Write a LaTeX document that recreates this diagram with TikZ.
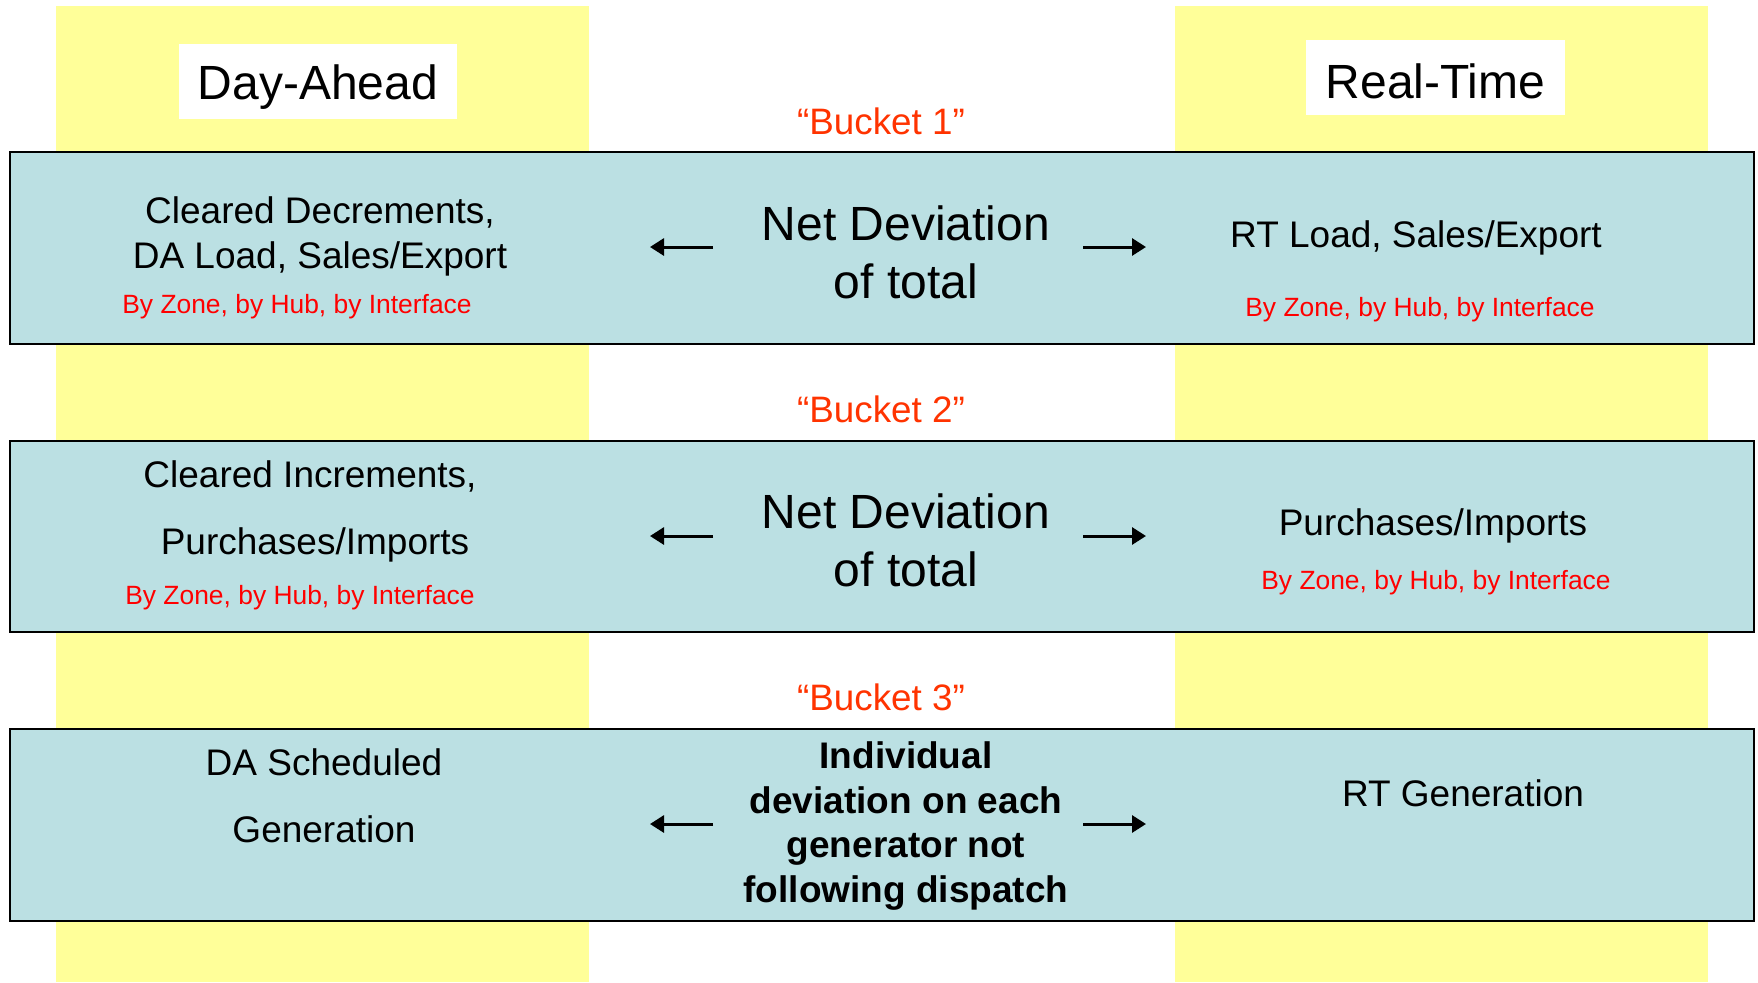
\documentclass[tikz,border=0pt]{standalone}
\usepackage{fontspec}
\setmainfont{Liberation Sans}
\usetikzlibrary{arrows.meta}
\definecolor{ylw}{HTML}{FFFF99}
\definecolor{bluebox}{HTML}{BBE0E3}
\definecolor{bucketred}{HTML}{FF3300}
\definecolor{zonered}{HTML}{FF0000}
\tikzset{
  column/.style={fill=ylw,draw=none},
  band/.style={fill=bluebox,draw=black,line width=1.1pt},
  headtxt/.style={inner sep=0pt,font=\fontsize{24}{28}\selectfont},
  buckettxt/.style={text=bucketred,inner sep=0pt,font=\fontsize{18.4}{22}\selectfont},
  bodytxt/.style={inner sep=0pt,align=center,font=\fontsize{18.5}{22.5}\selectfont},
  widetxt/.style={inner sep=0pt,align=center,font=\fontsize{18.5}{33.5}\selectfont},
  zonetxt/.style={inner sep=0pt,text=zonered,font=\fontsize{13.2}{16}\selectfont},
  nettxt/.style={inner sep=0pt,align=center,font=\fontsize{24}{29}\selectfont},
  indivtxt/.style={inner sep=0pt,align=center,font=\fontsize{18.5}{22.4}\selectfont\bfseries},
  arr/.style={-{Triangle[length=7pt,width=8.5pt]},line width=1.5pt}
}
\begin{document}
\begin{tikzpicture}[x=0.5pt,y=-0.5pt]
\useasboundingbox (0,0) rectangle (1758,982);
% yellow columns
\fill[column] (56,6) rectangle (589,982);
\fill[column] (1175,6) rectangle (1708,982);
% header boxes
\fill[white] (179,44) rectangle (457,119);
\fill[white] (1306,40) rectangle (1565,115);
\node[headtxt] (da) at (318,87) {Day-Ahead};
\node[headtxt] (rt) at (1435.5,81) {Real-Time};
% bands
\draw[band] (10,152) rectangle (1754,344);
\draw[band] (10,441) rectangle (1754,632);
\draw[band] (10,729) rectangle (1754,921);
% bucket labels
\node[buckettxt] (b1) at (881,121) {“Bucket 1”};
\node[buckettxt] (b2) at (881,409) {“Bucket 2”};
\node[buckettxt] (b3) at (881,697) {“Bucket 3”};
% ---- band 1
\node[bodytxt] (l1) at (320,236) {Cleared Decrements,\\DA Load, Sales/Export};
\node[zonetxt] (l1z) at (297,306.5) {By Zone, by Hub, by Interface};
\node[nettxt] (n1) at (906,252) {Net Deviation\\of total};
\node[bodytxt] (r1) at (1416,237.5) {RT Load, Sales/Export};
\node[zonetxt] (r1z) at (1420,309.5) {By Zone, by Hub, by Interface};
\coordinate (n1l) at (713,247); \coordinate (n1lt) at (650,247);
\coordinate (n1r) at (1083,247); \coordinate (n1rt) at (1146,247);
\draw[arr] (n1l) -- (n1lt);
\draw[arr] (n1r) -- (n1rt);
% ---- band 2
\node[widetxt] (l2) at (310,511) {Cleared Increments,\\\hspace*{5pt}Purchases/Imports};
\node[zonetxt] (l2z) at (300,597.5) {By Zone, by Hub, by Interface};
\node[nettxt] (n2) at (906,540) {Net Deviation\\of total};
\node[bodytxt] (r2) at (1433,525.5) {Purchases/Imports};
\node[zonetxt] (r2z) at (1436,582.5) {By Zone, by Hub, by Interface};
\coordinate (n2l) at (713,536); \coordinate (n2lt) at (650,536);
\coordinate (n2r) at (1083,536); \coordinate (n2rt) at (1146,536);
\draw[arr] (n2l) -- (n2lt);
\draw[arr] (n2r) -- (n2rt);
% ---- band 3
\node[widetxt] (l3) at (324,795.5) {DA Scheduled\\Generation};
\node[indivtxt] (n3) at (906,826) {Individual\\deviation on each\\generator not\\following dispatch};
\node[bodytxt] (r3) at (1463,793.5) {RT Generation};
\coordinate (n3l) at (713,824); \coordinate (n3lt) at (650,824);
\coordinate (n3r) at (1083,824); \coordinate (n3rt) at (1146,824);
\draw[arr] (n3l) -- (n3lt);
\draw[arr] (n3r) -- (n3rt);
\end{tikzpicture}
\end{document}
